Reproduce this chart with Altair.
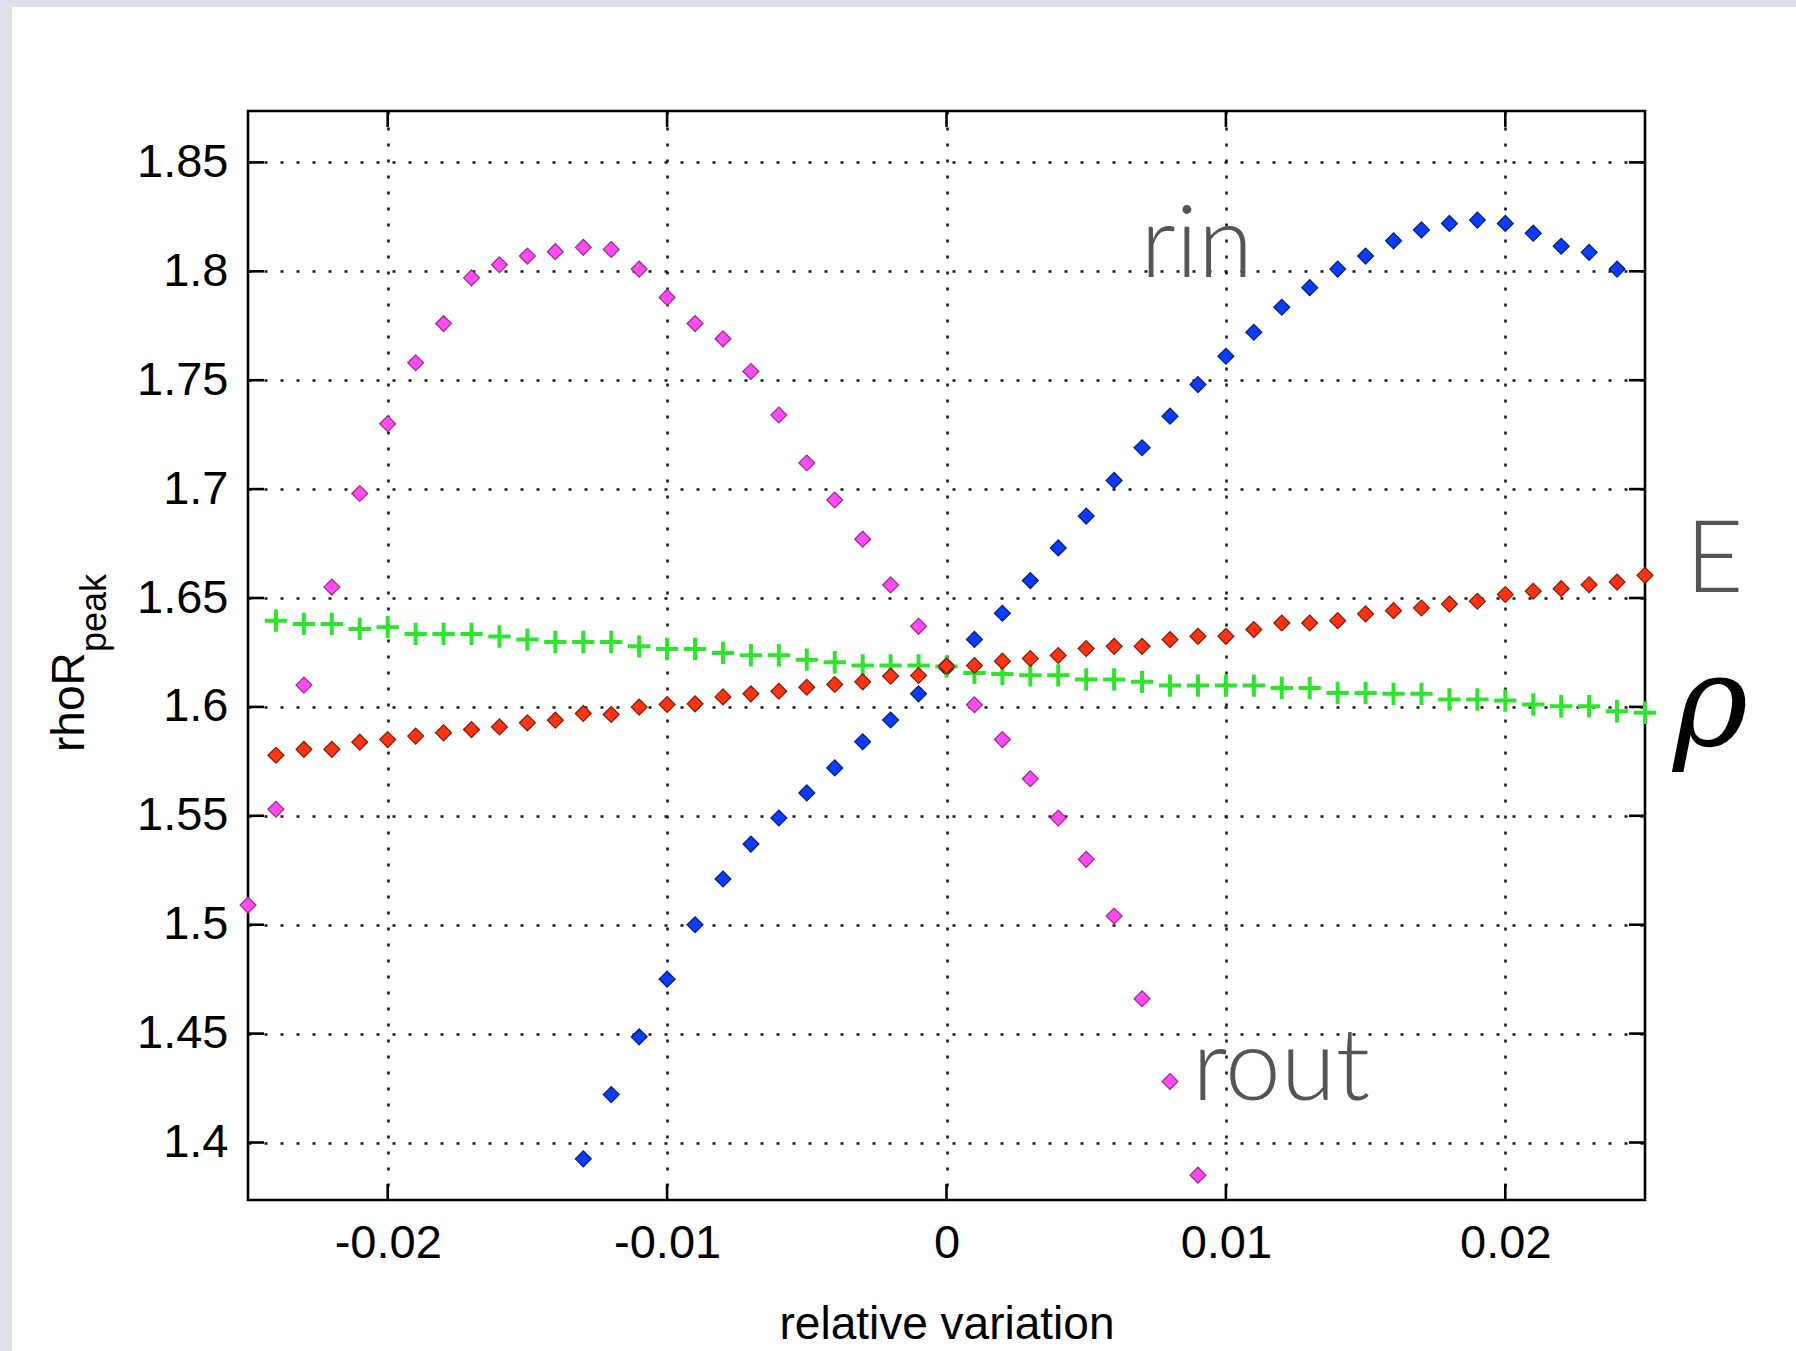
import altair as alt
import pandas as pd

# ---- data: peak areal density vs. relative variation of each parameter ----
rout_x = [-0.025, -0.024, -0.023, -0.022, -0.021, -0.020, -0.019, -0.018, -0.017,
          -0.016, -0.015, -0.014, -0.013, -0.012, -0.011, -0.010, -0.009, -0.008,
          -0.007, -0.006, -0.005, -0.004, -0.003, -0.002, -0.001, 0.000, 0.001,
          0.002, 0.003, 0.004, 0.005, 0.006, 0.007, 0.008, 0.009]
rout_y = [1.509, 1.553, 1.610, 1.655, 1.698, 1.730, 1.758, 1.776, 1.797,
          1.803, 1.807, 1.809, 1.811, 1.810, 1.801, 1.788, 1.776, 1.769,
          1.754, 1.734, 1.712, 1.695, 1.677, 1.656, 1.637, 1.619, 1.601,
          1.585, 1.567, 1.549, 1.530, 1.504, 1.466, 1.428, 1.385]

rin_x = [-0.013, -0.012, -0.011, -0.010, -0.009, -0.008, -0.007, -0.006, -0.005,
         -0.004, -0.003, -0.002, -0.001, 0.000, 0.001, 0.002, 0.003, 0.004,
         0.005, 0.006, 0.007, 0.008, 0.009, 0.010, 0.011, 0.012, 0.013,
         0.014, 0.015, 0.016, 0.017, 0.018, 0.019, 0.020, 0.021, 0.022,
         0.023, 0.024]
rin_y = [1.3925, 1.422, 1.4485, 1.475, 1.500, 1.521, 1.537, 1.549, 1.5605,
         1.572, 1.584, 1.594, 1.606, 1.618, 1.631, 1.643, 1.658, 1.673,
         1.6876, 1.704, 1.719, 1.7335, 1.748, 1.761, 1.772, 1.7835, 1.7925,
         1.801, 1.807, 1.814, 1.819, 1.822, 1.8235, 1.822, 1.8175, 1.8115,
         1.8087, 1.801]

e_x = [-0.024, -0.023, -0.022, -0.021, -0.020, -0.019, -0.018, -0.017, -0.016,
       -0.015, -0.014, -0.013, -0.012, -0.011, -0.010, -0.009, -0.008, -0.007,
       -0.006, -0.005, -0.004, -0.003, -0.002, -0.001, 0.000, 0.001, 0.002,
       0.003, 0.004, 0.005, 0.006, 0.007, 0.008, 0.009, 0.010, 0.011,
       0.012, 0.013, 0.014, 0.015, 0.016, 0.017, 0.018, 0.019, 0.020,
       0.021, 0.022, 0.023, 0.024, 0.025]
e_y = [1.5778, 1.5805, 1.5805, 1.5838, 1.5850, 1.5866, 1.5881, 1.5896, 1.5908,
       1.5927, 1.5939, 1.5970, 1.5965, 1.5999, 1.6011, 1.6014, 1.6046, 1.6060,
       1.6072, 1.6090, 1.6103, 1.6115, 1.6141, 1.6144, 1.6187, 1.6190, 1.6210,
       1.6222, 1.6236, 1.6268, 1.6278, 1.6278, 1.6309, 1.6324, 1.6324, 1.6355,
       1.6385, 1.6385, 1.6396, 1.6427, 1.6442, 1.6454, 1.6472, 1.6485, 1.6516,
       1.6531, 1.6543, 1.6561, 1.6573, 1.6604]

rho_x = list(e_x)
rho_y = [1.6396, 1.6381, 1.6381, 1.6358, 1.6366, 1.6335, 1.6335, 1.6335, 1.6323,
         1.6309, 1.6298, 1.6298, 1.6298, 1.6278, 1.6266, 1.6266, 1.6248, 1.6237,
         1.6237, 1.6217, 1.6205, 1.6190, 1.6190, 1.6190, 1.6185, 1.6156, 1.6151,
         1.6145, 1.6145, 1.6126, 1.6126, 1.6115, 1.6098, 1.6098, 1.6098, 1.6098,
         1.6087, 1.6087, 1.6064, 1.6064, 1.6060, 1.6060, 1.6034, 1.6034, 1.6029,
         1.6011, 1.6003, 1.6003, 1.5980, 1.5973]

x_ticks = [-0.02, -0.01, 0.0, 0.01, 0.02]
y_ticks = [1.4, 1.45, 1.5, 1.55, 1.6, 1.65, 1.7, 1.75, 1.8, 1.85]

# curve labels, anchored in data coordinates
labels = ["rin", "rout", "E"]
label_x = [0.00694, 0.0088, 0.02645]
label_y = [1.7974, 1.4195, 1.6528]
rho_label_x = [0.02600]
rho_label_y = [1.5825]

# ---- layout ----
W, H = 1397, 1089
PAD_L, PAD_T, PAD_R, PAD_B = 248, 111, 151, 151
TICK = 16
SANS = "Liberation Sans, Arial, sans-serif"

xscale = alt.Scale(domain=[-0.025, 0.025], nice=False, zero=False)
yscale = alt.Scale(domain=[1.3736, 1.8736], nice=False, zero=False)

xaxis = alt.Axis(values=x_ticks, format="~g",
                 labelExpr="replace(datum.label, '\u2212', '-')",
                 ticks=False, tickSize=0, domain=False, labelPadding=20,
                 grid=True, gridDash=[3, 13], gridWidth=2.6, gridColor="#1a1a1a",
                 labelFont=SANS, labelFontSize=47, labelColor="black",
                 title="relative variation", titleFont=SANS, titleFontSize=46,
                 titleFontWeight="normal", titleColor="black",
                 titleY=138, titleBaseline="alphabetic")
yaxis = alt.Axis(values=y_ticks, format="~g",
                 ticks=False, tickSize=0, domain=False, labelPadding=20,
                 grid=True, gridDash=[3, 13], gridWidth=2.6, gridColor="#1a1a1a",
                 labelFont=SANS, labelFontSize=47, labelColor="black",
                 labelBaseline="middle", title=None)

X = alt.X("x:Q", scale=xscale, axis=xaxis)
Y = alt.Y("y:Q", scale=yscale, axis=yaxis)


def frame(xs, ys):
    return pd.DataFrame({"x": xs, "y": ys})


def diamonds(xs, ys, fill, stroke):
    return alt.Chart(frame(xs, ys)).mark_point(
        shape="diamond", filled=True, fill=fill, stroke=stroke,
        strokeWidth=1.3, size=250, opacity=1
    ).encode(x=X, y=Y)


rin_layer = diamonds(rin_x, rin_y, "#0a3cff", "#06207a")
rout_layer = diamonds(rout_x, rout_y, "#ff4cf0", "#a02c98")
e_layer = diamonds(e_x, e_y, "#ff3412", "#8a1c08")
rho_layer = alt.Chart(frame(rho_x, rho_y)).mark_point(
    shape="M-1,0L1,0M0,-1L0,1", filled=False, stroke="#2ee52e",
    strokeWidth=4, size=500, opacity=1
).encode(x=X, y=Y)

# inward tick marks on all four sides of the frame
ytick_df = pd.DataFrame({"y": y_ticks})
xtick_df = pd.DataFrame({"x": x_ticks})
tick_style = dict(color="black", strokeWidth=2.6)
ticks_left = alt.Chart(ytick_df).mark_rule(**tick_style).encode(
    y=Y, x=alt.value(0), x2=alt.value(TICK))
ticks_right = alt.Chart(ytick_df).mark_rule(**tick_style).encode(
    y=Y, x=alt.value(W - TICK), x2=alt.value(W))
ticks_bottom = alt.Chart(xtick_df).mark_rule(**tick_style).encode(
    x=X, y=alt.value(H - TICK), y2=alt.value(H))
ticks_top = alt.Chart(xtick_df).mark_rule(**tick_style).encode(
    x=X, y=alt.value(0), y2=alt.value(TICK))

# curve labels
label_df = pd.DataFrame({"x": label_x, "y": label_y, "label": labels})
label_layer = alt.Chart(label_df).mark_text(
    font="Lato", fontWeight=300, fontSize=100, color="#555555",
    align="left", baseline="alphabetic"
).encode(x=X, y=Y, text="label:N")
rho_df = pd.DataFrame({"x": rho_label_x, "y": rho_label_y, "label": ["\u03c1"]})
rho_text = alt.Chart(rho_df).mark_text(
    font="DejaVu Serif, Liberation Serif, serif", fontStyle="italic",
    fontSize=128, color="black", align="left", baseline="alphabetic"
).encode(x=X, y=Y, text="label:N")

# y-axis title with subscript
one = pd.DataFrame({"t": [0]})
ytitle_main = alt.Chart(one).mark_text(
    text="rhoR", font=SANS, fontSize=46, color="black", angle=270,
    align="left", baseline="alphabetic"
).encode(x=alt.value(84 - PAD_L), y=alt.value(752 - PAD_T))
ytitle_sub = alt.Chart(one).mark_text(
    text="peak", font=SANS, fontSize=36, color="black", angle=270,
    align="left", baseline="alphabetic"
).encode(x=alt.value(106 - PAD_L), y=alt.value(652 - PAD_T))

# pale page edge on the top and left
band_left = alt.Chart(one).mark_rect(color="#dde2e9").encode(
    x=alt.value(-PAD_L), x2=alt.value(-PAD_L + 12),
    y=alt.value(-PAD_T), y2=alt.value(H + PAD_B))
band_top = alt.Chart(one).mark_rect(color="#dde2e9").encode(
    x=alt.value(-PAD_L), x2=alt.value(W + PAD_R),
    y=alt.value(-PAD_T), y2=alt.value(-PAD_T + 7))

chart = alt.layer(
    band_left, band_top,
    ticks_left, ticks_right, ticks_bottom, ticks_top,
    rin_layer, rout_layer, rho_layer, e_layer,
    label_layer, rho_text, ytitle_main, ytitle_sub,
).properties(
    width=W, height=H,
    autosize=alt.AutoSizeParams(type="none"),
    padding={"left": PAD_L, "top": PAD_T, "right": PAD_R, "bottom": PAD_B},
    background="white",
).configure_view(
    stroke="black", strokeWidth=2.6, fill="white"
)

chart.save("out.html", embed_options={"renderer": "svg", "actions": False})
